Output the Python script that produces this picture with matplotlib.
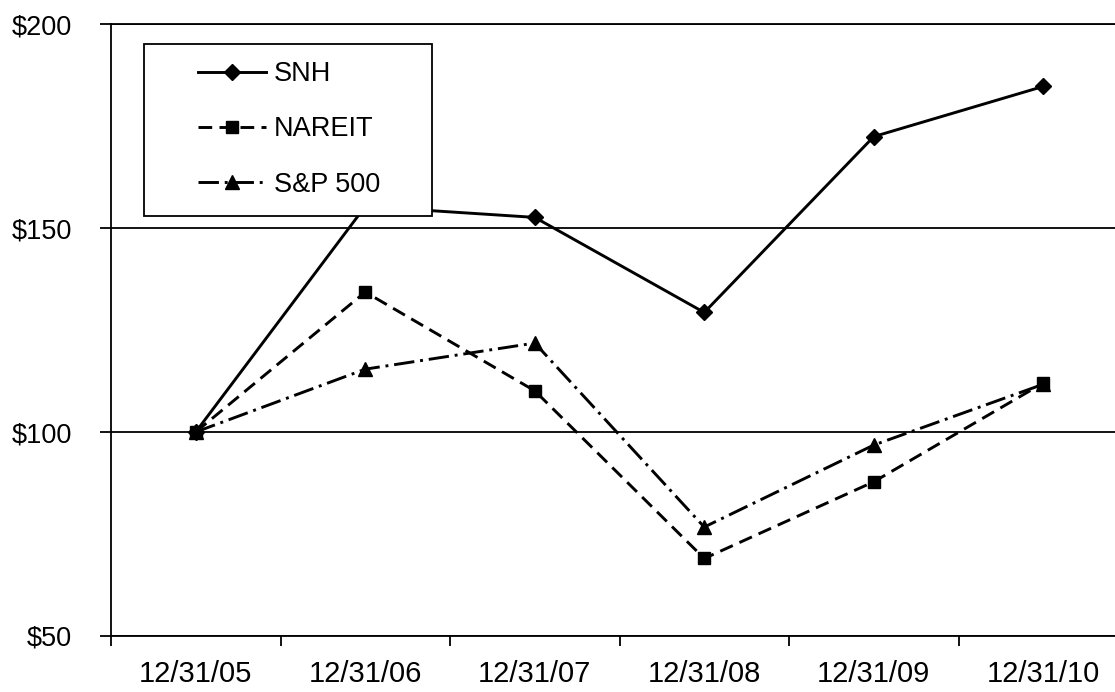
import matplotlib
matplotlib.use("Agg")
import matplotlib.pyplot as plt
from matplotlib.patches import Rectangle

plt.rcParams["font.family"] = ["Liberation Sans", "DejaVu Sans"]

# data
dates = ["12/31/05", "12/31/06", "12/31/07", "12/31/08", "12/31/09", "12/31/10"]
snh = [100.0, 155.3, 152.6, 129.3, 172.4, 184.7]
nareit = [100.0, 134.3, 110.1, 69.0, 87.8, 112.0]
sp500 = [100.0, 115.4, 121.8, 76.7, 96.8, 111.7]
y_ticks = [50, 100, 150, 200]
y_labels = ["$50", "$100", "$150", "$200"]

fig = plt.figure(figsize=(11.15, 6.92), dpi=100)
# the plot area runs slightly past the right edge of the image, as in the scan
ax = fig.add_axes([111 / 1115, 1 - 636 / 692, 1017 / 1115, 612 / 692])

x = list(range(len(dates)))

ax.plot(x, snh, color="black", linewidth=2.1, linestyle="-",
        marker="D", markersize=8.5, label="SNH", zorder=3)
ax.plot(x, sp500, color="black", linewidth=2.1, dashes=(7, 2, 1, 2),
        marker="^", markersize=10, label="S&P 500", zorder=3)
ax.plot(x, nareit, color="black", linewidth=2.1, dashes=(4.7, 2.5),
        marker="s", markersize=8.5, label="NAREIT", zorder=3)

ax.set_xlim(-0.5, len(dates) - 0.5)
ax.set_ylim(50, 200)

ax.set_yticks(y_ticks)
ax.set_yticklabels(y_labels, fontsize=19.5)
ax.tick_params(axis="y", direction="out", length=8, width=1.3, pad=20)

ax.set_xticks(x)
ax.set_xticklabels(dates, fontsize=21)
ax.tick_params(axis="x", which="major", length=0, pad=17)
ax.set_xticks([i - 0.5 for i in range(len(dates) + 1)], minor=True)
ax.tick_params(axis="x", which="minor", direction="out", length=7, width=1.3)

ax.yaxis.grid(True, color="black", linewidth=1.3)
ax.set_axisbelow(True)
for side in ["left", "bottom", "top", "right"]:
    ax.spines[side].set_linewidth(1.3)
    ax.spines[side].set_color("black")

# legend box drawn over the lines
box = Rectangle((144 / 1115, 1 - 216 / 692), 288 / 1115, 172 / 692,
                transform=fig.transFigure, facecolor="white",
                edgecolor="black", linewidth=1.3, zorder=4, clip_on=False)
ax.add_patch(box)

handles, labels = ax.get_legend_handles_labels()
order = [0, 2, 1]
leg = ax.legend(
    [handles[i] for i in order],
    [labels[i] for i in order],
    loc="upper left",
    bbox_to_anchor=(198 / 1115, 1 - 61 / 692),
    bbox_transform=fig.transFigure,
    frameon=False,
    borderpad=0,
    borderaxespad=0,
    fontsize=19.5,
    handlelength=2.5,
    handletextpad=0.3,
    labelspacing=1.08,
    numpoints=1,
)
leg.set_zorder(6)

fig.savefig("out.png", dpi=100)
